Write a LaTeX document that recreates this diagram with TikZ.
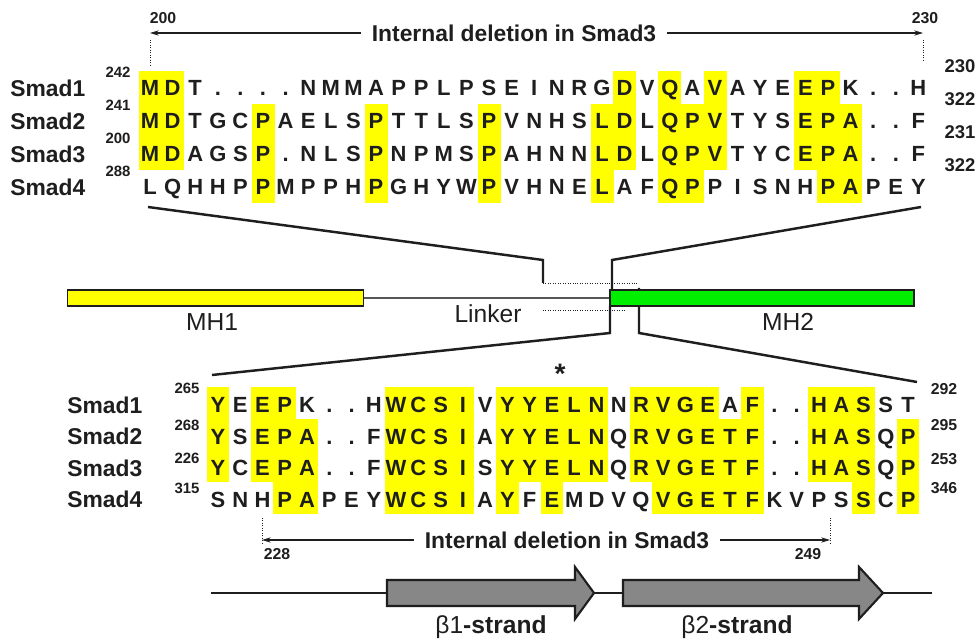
\documentclass[tikz,border=0pt]{standalone}
\usepackage{fontspec}
\setmainfont{Liberation Sans}
\usetikzlibrary{arrows.meta, positioning, backgrounds}
\usepackage{xcolor}
\definecolor{ink}{HTML}{1E1E1E}
\definecolor{hilite}{HTML}{FFFF00}
\definecolor{mhyellow}{HTML}{FFFF00}
\definecolor{mhgreen}{HTML}{00EE00}
\definecolor{strandgrey}{HTML}{878787}

\begin{document}
\begin{tikzpicture}[
    x=0.02cm, y=-0.02cm,
    res/.style={inner sep=0pt, text height=9pt, text depth=0pt, text=ink,
                font=\fontsize{12.5}{14}\selectfont\bfseries},
    seqname/.style={inner sep=0pt, anchor=west, text height=9.5pt, text depth=0pt,
                text=ink, font=\fontsize{13}{15}\selectfont\bfseries},
    startnum/.style={inner sep=0pt, text=ink, font=\fontsize{8.5}{10}\selectfont\bfseries},
    endnum/.style={inner sep=0pt, text=ink, font=\fontsize{10.5}{12}\selectfont\bfseries},
    posnum/.style={inner sep=0pt, text=ink, font=\fontsize{9}{11}\selectfont\bfseries},
    deltext/.style={inner xsep=6pt, inner ysep=0pt, text=ink,
                font=\fontsize{13}{15}\selectfont\bfseries},
    domlabel/.style={inner sep=0pt, text=ink, font=\fontsize{14}{16}\selectfont},
    dombar/.style={rectangle, draw=ink, thick, minimum height=0.32cm, inner sep=0pt},
    hl/.style={fill=hilite},
    arr/.style={-{Stealth[length=5pt, width=3pt]}, semithick, color=ink},
    guide/.style={densely dotted, thin, color=ink},
    funnel/.style={line width=1.4pt, color=ink},
    strand/.style={draw=ink, line width=1.2pt, fill=strandgrey},
  ]
    \useasboundingbox (0,0) rectangle (979,641);

    % upper alignment
    \foreach \r/\seq in {
        1/{M,D,T,.,.,.,.,N,M,M,A,P,P,L,P,S,E,I,N,R,G,D,V,Q,A,V,A,Y,E,E,P,K,.,.,H},
        2/{M,D,T,G,C,P,A,E,L,S,P,T,T,L,S,P,V,N,H,S,L,D,L,Q,P,V,T,Y,S,E,P,A,.,.,F},
        3/{M,D,A,G,S,P,.,N,L,S,P,N,P,M,S,P,A,H,N,N,L,D,L,Q,P,V,T,Y,C,E,P,A,.,.,F},
        4/{L,Q,H,H,P,P,M,P,P,H,P,G,H,Y,W,P,V,H,N,E,L,A,F,Q,P,P,I,S,N,H,P,A,P,E,Y}}
      \foreach \ch [count=\c] in \seq
        \node[res] (t\r-\c) at ({150+(\c-1)*22.6}, {88+(\r-1)*33}) {\ch};

    \foreach \r/\st/\en in {1/242/230, 2/241/322, 3/200/231, 4/288/322} {
      \node[seqname] (tn\r) at (10, {88+(\r-1)*33}) {Smad\r};
      \node[startnum] (ts\r) at (118, {72+(\r-1)*33}) {\st};
      \node[endnum] (te\r) at (960, {66+(\r-1)*33}) {\en};
    }

    \begin{scope}[on background layer]
      \fill[white] (0,0) rectangle (979,641);
      \foreach \c/\a/\b in {1/1/3, 2/1/3, 6/2/4, 11/2/4, 16/2/4, 21/2/4, 22/1/3,
                            24/1/4, 25/2/4, 26/1/3, 30/1/3, 31/1/4, 32/2/4}
        \fill[hl] ({150+(\c-1)*22.6-11.5}, {88+(\a-1)*33-17})
          rectangle ({150+(\c-1)*22.6+11.5}, {88+(\b-1)*33+16});
    \end{scope}

    % deletion, upper
    \coordinate (dtL) at (150,33);
    \coordinate (dtR) at (923,33);
    \node[deltext] (dtop) at (514,33) {Internal deletion in Smad3};
    \draw[arr] (dtop) -- (dtL);
    \draw[arr] (dtop) -- (dtR);
    \draw[guide] (150,40) -- (150,67);
    \draw[guide] (923,40) -- (923,62);
    \node[posnum] (dt200) at (163,18) {200};
    \node[posnum] (dt230) at (925,18) {230};

    % funnel from the alignments to the linker
    \draw[funnel] (148,207) -- (543,260) -- (543,283);
    \draw[funnel] (921,207) -- (612,260) -- (612,290);
    \draw[funnel] (610,306) -- (610,333) -- (212,375);
    \draw[funnel] (639,288) -- (639,333) -- (917,382);
    \draw[guide] (543,283) -- (637,283);
    \draw[guide] (543,310) -- (625,310);

    % domains
    \node[dombar, fill=mhyellow, minimum width=5.92cm] (mh1) at (215.5,298) {};
    \node[dombar, fill=mhgreen, minimum width=6.08cm] (mh2) at (762,298) {};
    \draw[thick, color=ink!75] (mh1.east) -- (mh2.west);
    \node[domlabel] (mh1lab) at (212,322) {MH1};
    \node[domlabel] (linklab) at (488,314) {Linker};
    \node[domlabel] (mh2lab) at (788,322) {MH2};

    % lower alignment
    \foreach \r/\seq in {
        1/{Y,E,E,P,K,.,.,H,W,C,S,I,V,Y,Y,E,L,N,N,R,V,G,E,A,F,.,.,H,A,S,S,T},
        2/{Y,S,E,P,A,.,.,F,W,C,S,I,A,Y,Y,E,L,N,Q,R,V,G,E,T,F,.,.,H,A,S,Q,P},
        3/{Y,C,E,P,A,.,.,F,W,C,S,I,S,Y,Y,E,L,N,Q,R,V,G,E,T,F,.,.,H,A,S,Q,P},
        4/{S,N,H,P,A,P,E,Y,W,C,S,I,A,Y,F,E,M,D,V,Q,V,G,E,T,F,K,V,P,S,S,C,P}}
      \foreach \ch [count=\c] in \seq
        \node[res] (b\r-\c) at ({218+(\c-1)*22.26}, {405+(\r-1)*31.5}) {\ch};

    \foreach \r/\st/\sy/\en/\ey in {1/265/388/292/389, 2/268/425/295/425,
                                    3/226/458/253/459, 4/315/488/346/488} {
      \node[seqname] (bn\r) at (67, {405+(\r-1)*31.5}) {Smad\r};
      \node[startnum] (bs\r) at (187,\sy) {\st};
      \node[posnum] (be\r) at (944,\ey) {\en};
    }

    \begin{scope}[on background layer]
      \foreach \c/\a/\b in {1/1/3, 3/1/3, 4/1/4, 5/2/4, 9/1/4, 10/1/4, 11/1/4, 12/1/4,
                            14/1/4, 15/1/3, 16/1/4, 17/1/3, 18/1/3, 20/1/3, 21/1/4,
                            22/1/4, 23/1/4, 24/2/4, 25/1/4, 28/1/3, 29/1/3, 30/1/4, 32/2/4}
        \fill[hl] ({218+(\c-1)*22.26-11.4}, {405+(\a-1)*31.5-18})
          rectangle ({218+(\c-1)*22.26+11.4}, {405+(\b-1)*31.5+14});
    \end{scope}

    \node[font=\fontsize{16}{18}\selectfont\bfseries, text=ink, inner sep=0pt] (star) at (560,374) {*};

    % deletion, lower
    \coordinate (dbL) at (262,540);
    \coordinate (dbR) at (830,540);
    \node[deltext] (dbot) at (567,540) {Internal deletion in Smad3};
    \draw[arr] (dbot) -- (dbL);
    \draw[arr] (dbot) -- (dbR);
    \draw[guide] (262,518) -- (262,545);
    \draw[guide] (830,518) -- (830,545);
    \node[posnum] (db228) at (277,554) {228};
    \node[posnum] (db249) at (808,554) {249};

    % strands
    \draw[line width=1.2pt, color=ink] (211,593) -- (932,593);
    \draw[strand] (387,580) -- (575,580) -- (575,567) -- (594,593) -- (575,619)
      -- (575,606) -- (387,606) -- cycle;
    \draw[strand] (623,580) -- (859,580) -- (859,567) -- (883,593) -- (859,619)
      -- (859,606) -- (623,606) -- cycle;
    \node[domlabel] (b1lab) at (491,627) {β1\textbf{-strand}};
    \node[domlabel] (b2lab) at (737,627) {β2\textbf{-strand}};
\end{tikzpicture}
\end{document}
